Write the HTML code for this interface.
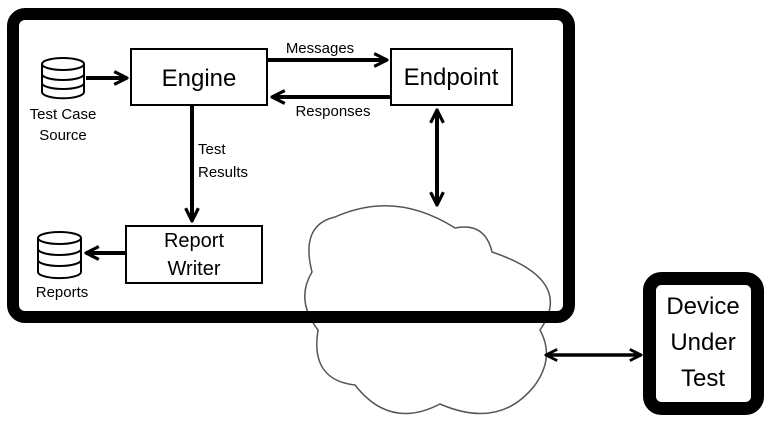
<!DOCTYPE html>
<html><head><meta charset="utf-8"><style>
html,body{margin:0;padding:0;background:#fff;}
svg{display:block}
text{font-family:"Liberation Sans",sans-serif;fill:#000}
</style></head><body>
<svg width="774" height="424" viewBox="0 0 774 424" xmlns="http://www.w3.org/2000/svg">
<defs>
<marker id="a" viewBox="0 0 10 10" refX="9" refY="5" markerWidth="4" markerHeight="5" orient="auto-start-reverse" markerUnits="strokeWidth">
<path d="M1,1 L9,5 L1,9" fill="none" stroke="#000" stroke-width="2"/>
</marker>
</defs>
<!-- cloud -->
<path d="M312,272 Q300,225 335,217 Q395,190 455,228 Q485,222 492,252 Q575,280 540,330 Q555,357 535,385 Q500,430 440,404 Q390,430 355,385 Q310,380 318,330 Q295,300 312,272 Z" fill="#fff" stroke="#555" stroke-width="1.5"/>
<!-- big box -->
<rect x="13" y="14" width="556" height="303" rx="12" fill="none" stroke="#000" stroke-width="12"/>
<!-- device -->
<rect x="649.5" y="278.5" width="108" height="130" rx="12" fill="#fff" stroke="#000" stroke-width="13"/>
<text x="703" y="314" font-size="24" text-anchor="middle">Device</text>
<text x="703" y="350" font-size="24" text-anchor="middle">Under</text>
<text x="703" y="386" font-size="24" text-anchor="middle">Test</text>
<!-- boxes -->
<rect x="131" y="49" width="136" height="56" fill="#fff" stroke="#000" stroke-width="2"/>
<text x="199" y="86" font-size="24" text-anchor="middle">Engine</text>
<rect x="391" y="49" width="121" height="56" fill="#fff" stroke="#000" stroke-width="2"/>
<text x="451" y="85" font-size="24" text-anchor="middle">Endpoint</text>
<rect x="126" y="226" width="136" height="57" fill="#fff" stroke="#000" stroke-width="2"/>
<text x="194" y="247" font-size="20" text-anchor="middle">Report</text>
<text x="194" y="275" font-size="20" text-anchor="middle">Writer</text>
<!-- databases -->
<g fill="#fff" stroke="#000" stroke-width="2">
<path d="M42,64 v28 a20,6 0 0 0 42,0 v-28"/>
<ellipse cx="63" cy="64" rx="21" ry="6"/>
<path d="M42,74 a21,6 0 0 0 42,0 M42,83 a21,6 0 0 0 42,0" fill="none"/>
<path d="M38,238 v34 a21,6 0 0 0 43,0 v-34"/>
<ellipse cx="59.5" cy="238" rx="21.5" ry="6"/>
<path d="M38,249 a21.5,6 0 0 0 43,0 M38,260 a21.5,6 0 0 0 43,0" fill="none"/>
</g>
<text x="63" y="119" font-size="15" text-anchor="middle">Test Case</text>
<text x="63" y="140" font-size="15" text-anchor="middle">Source</text>
<text x="62" y="297" font-size="15" text-anchor="middle">Reports</text>
<!-- arrows -->
<g stroke="#000" stroke-width="4" fill="none">
<line x1="86" y1="78" x2="127" y2="78" marker-end="url(#a)"/>
<line x1="268" y1="60" x2="387" y2="60" marker-end="url(#a)"/>
<line x1="390" y1="97" x2="272" y2="97" marker-end="url(#a)"/>
<line x1="192" y1="106" x2="192" y2="221" marker-end="url(#a)"/>
<line x1="125" y1="253" x2="86" y2="253" marker-end="url(#a)"/>
<line x1="437" y1="110" x2="437" y2="205" marker-start="url(#a)" marker-end="url(#a)"/>
<line x1="546" y1="355" x2="641" y2="355" stroke-width="3.5" marker-start="url(#a)" marker-end="url(#a)"/>
</g>
<text x="320" y="53" font-size="15" text-anchor="middle">Messages</text>
<text x="333" y="116" font-size="15" text-anchor="middle">Responses</text>
<text x="198" y="154" font-size="15">Test</text>
<text x="198" y="177" font-size="15">Results</text>
</svg>
</body></html>
